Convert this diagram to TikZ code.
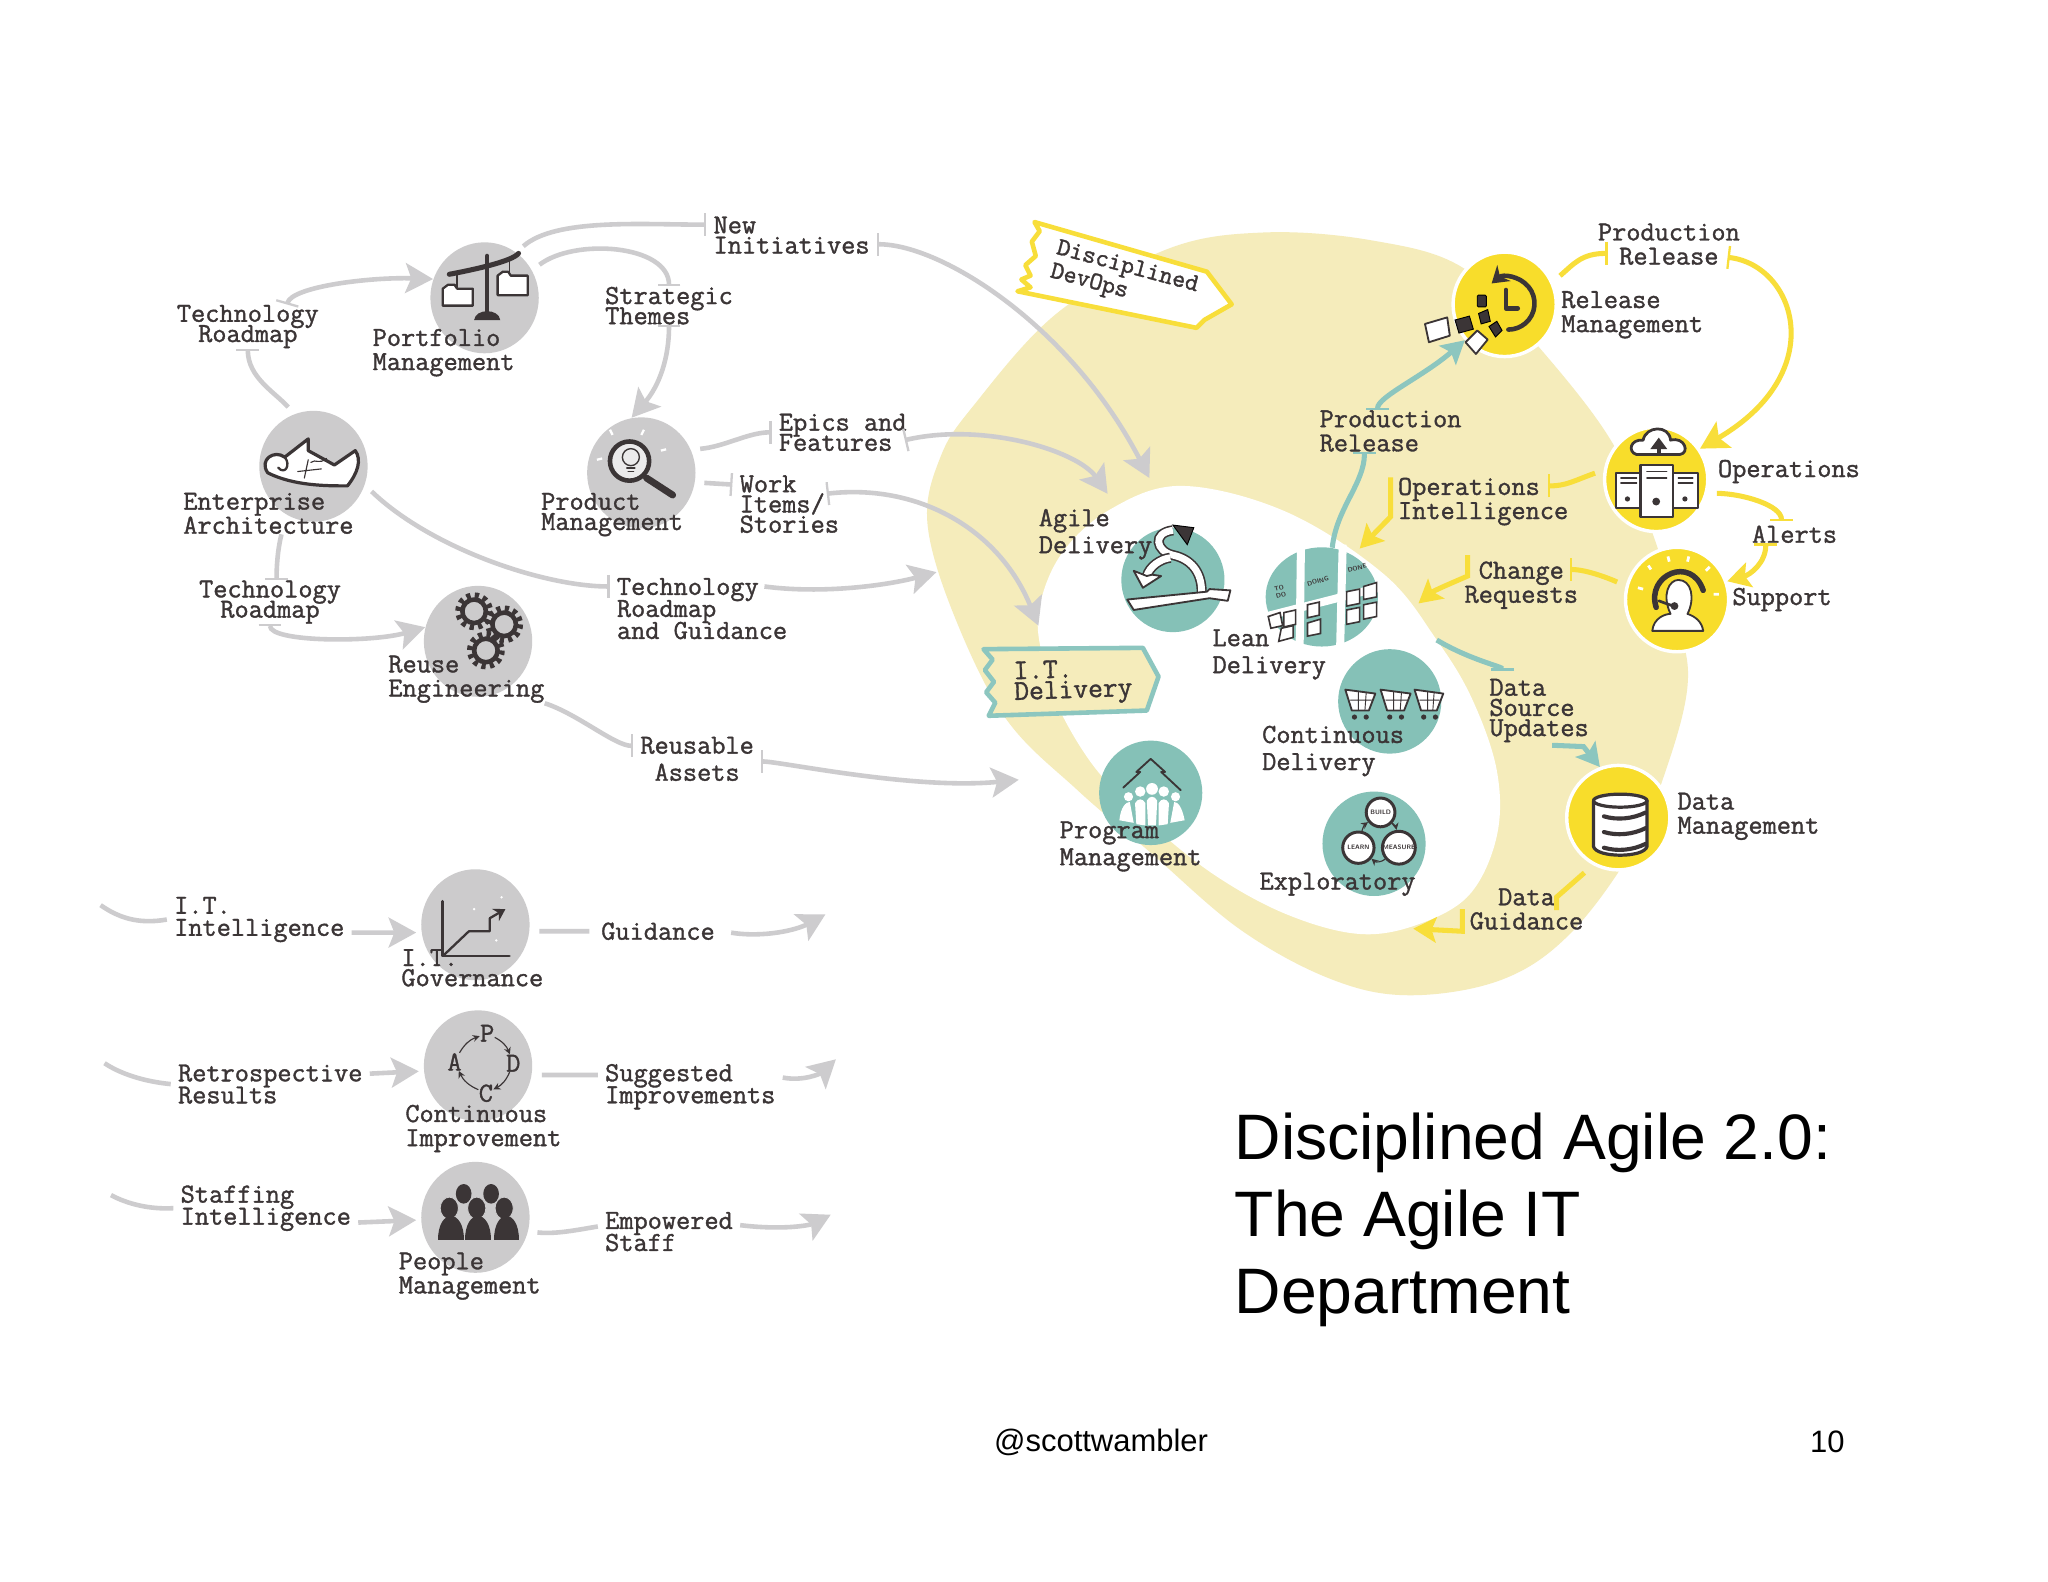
\documentclass[tikz,border=0pt]{standalone}
\usepackage{fontspec}
\setmainfont{Liberation Sans}
\newfontfamily\lblfont{Latin Modern Mono}[FakeBold=1.3]
\newcommand{\lblsize}[2]{\lblfont\fontsize{#1}{#2}\selectfont\lineskiplimit=-30pt }
\usetikzlibrary{shapes.geometric, arrows.meta}
\definecolor{ink}{HTML}{3B3536}
\definecolor{discgrey}{HTML}{CCCBCC}
\definecolor{flowgrey}{HTML}{CDCCCE}
\definecolor{discteal}{HTML}{85C1B7}
\definecolor{flowteal}{HTML}{8CC6BF}
\definecolor{discyellow}{HTML}{F8DD2B}
\definecolor{flowyellow}{HTML}{F8DE3A}
\definecolor{blob}{HTML}{F5ECBB}
\begin{document}
\begin{tikzpicture}[x=.02cm,y=-.02cm]
		\tikzstyle{GreyDisc} = [ellipse, minimum width=1.66cm, minimum height=1.7cm, inner sep=0, fill=discgrey]
		\tikzstyle{TealDisc} = [ellipse, minimum width=1.58cm, minimum height=1.6cm, inner sep=0, fill=discteal]
		\tikzstyle{YellowDisc} = [ellipse, minimum width=1.58cm, minimum height=1.6cm, inner sep=0, fill=discyellow, draw=white, line width=1.5pt]
		\tikzstyle{Lbl} = [anchor=west, align=left, xshift=-3pt, inner xsep=3pt, inner ysep=0pt, text=ink, font=\lblsize{12}{10.5}]
		\tikzstyle{LblC} = [Lbl, anchor=center, align=center, xshift=0pt]
		\tikzstyle{Snug} = [font=\lblsize{12}{8.8}]
		\tikzstyle{Tight} = [font=\lblsize{12}{9.6}]
		\tikzstyle{Loose} = [font=\lblsize{12}{11.8}]
		\tikzstyle{Slide} = [anchor=west, align=left, inner sep=0pt, font=\fontsize{28}{33.6}\selectfont]
		\tikzstyle{Foot} = [inner sep=0pt, font=\fontsize{13.5}{16}\selectfont]
		\tikzstyle{Tiny} = [inner sep=0pt, text=ink, font=\sffamily\bfseries\fontsize{2.8}{3.4}\selectfont]
		\tikzstyle{Letter} = [inner sep=0pt, text=ink, font=\lblsize{12}{12}]
		\tikzstyle{Grey} = [line width=2pt, draw=flowgrey]
		\tikzstyle{Teal} = [line width=2.2pt, draw=flowteal]
		\tikzstyle{Yellow} = [line width=2.2pt, draw=flowyellow]
		\tikzstyle{toBar} = [arrows=-{Bar[width=10pt,line width=1pt]}]
		\tikzstyle{barArrow} = [arrows={Bar[width=10pt,line width=1pt]}-{Stealth[length=12pt,width=13pt,inset=2.5pt]}]
		\tikzstyle{toArrow} = [arrows=-{Stealth[length=12pt,width=13pt,inset=2.5pt]}]
		\tikzstyle{smallArrow} = [arrows=-{Stealth[length=10pt,width=11pt,inset=2pt]}]
		\tikzstyle{barSmall} = [arrows={Bar[width=10pt,line width=1pt]}-{Stealth[length=10pt,width=11pt,inset=2pt]}]
		\tikzstyle{Out} = [shorten <=4pt]
		\tikzstyle{Icon} = [draw=ink, line width=1pt, fill=white, line join=round]
		\tikzstyle{Stroke} = [draw=ink, line width=1.4pt, line cap=round, line join=round]
		\tikzstyle{Solid} = [fill=ink]
		\tikzstyle{Ribbon} = [draw=ink, line width=.7pt, double=white, double distance=3pt]
		\tikzstyle{Note} = [draw=ink, line width=.7pt, fill=white]
		\tikzstyle{Thin} = [draw=ink, line width=.5pt, -{Stealth[length=3pt,width=3pt]}]

		\useasboundingbox (0,0) rectangle (1568,1211);
		\fill [white] (0,0) rectangle (1568,1211);

		\fill [blob] plot [smooth cycle, tension=.6] coordinates {(967,178) (1050,184) (1120,205) (1175,262) (1232,335) (1264,405) (1286,480) (1292,525) (1277,585) (1250,650) (1202,715) (1150,750) (1080,762) (1020,750) (950,712) (880,652) (825,605) (770,550) (730,470) (710,400) (720,350) (745,311) (809,240) (893,191)};
		\fill [white] plot [smooth cycle, tension=.6] coordinates {(905,372) (985,392) (1060,440) (1100,490) (1127,535) (1146,590) (1146,640) (1125,685) (1085,708) (1040,715) (985,700) (930,670) (880,630) (840,590) (812,545) (800,510) (795,470) (812,425) (850,390)};

		\filldraw [fill=white, draw=flowyellow, line width=2pt, line join=round] (792,170) -- (924,208) -- (943,233) -- (922,245) -- (916,251) -- (779,223) -- (789,220) -- (782,214) -- (789,211) -- (785,203) -- (793,196) -- (790,185) -- (796,177) -- cycle;
		\filldraw [fill=blob, draw=flowteal, line width=2pt, line join=round] (753,497) -- (875,496) -- (887,518) -- (878,544) -- (757,548) -- (762,538) -- (755,530) -- (761,522) -- (754,513) -- (760,505) -- cycle;

		\node (portfolio) [GreyDisc] at (371,228) {};
		\node (enterprise) [GreyDisc] at (240,357) {};
		\node (product) [GreyDisc] at (491,362) {};
		\node (reuse) [GreyDisc] at (366,491) {};
		\node (governance) [GreyDisc] at (364,708) {};
		\node (improve) [GreyDisc] at (366,816) {};
		\node (people) [GreyDisc] at (364,932) {};
		\node (agile) [TealDisc] at (898,444) {};
		\node (lean) [TealDisc, minimum width=1.72cm, minimum height=1.52cm] at (1012,457) {};
		\node (contdel) [TealDisc] at (1064,537) {};
		\node (program) [TealDisc] at (881,607) {};
		\node (explore) [TealDisc] at (1052,646) {};
		\node (release) [YellowDisc] at (1152,233) {};
		\node (operations) [YellowDisc] at (1268,367) {};
		\node (support) [YellowDisc] at (1284,459) {};
		\node (datamgmt) [YellowDisc] at (1239,626) {};

		\node (newinit) [Lbl, Snug] at (546,180) {New\\Initiatives};
		\node (themes) [Lbl, Snug] at (463,234) {Strategic\\Themes};
		\node (roadtop) [LblC, Snug] at (195,250) {Technology\\Roadmap};
		\node (portlbl) [Lbl] at (285,270) {Portfolio\\Management};
		\node (entlbl) [Lbl] at (140,393) {Enterprise\\Architecture};
		\node (epics) [Lbl, Snug] at (596,331) {Epics and\\Features};
		\node (items) [Lbl, Snug] at (566,386) {Work\\Items/\\Stories};
		\node (prodlbl) [Lbl, Snug] at (414,394) {Product\\Management};
		\node (roadlow) [LblC, Snug] at (212,461) {Technology\\Roadmap};
		\node (guidroad) [Lbl, Tight] at (472,466) {Technology\\Roadmap\\and Guidance};
		\node (reulbl) [Lbl] at (297,520) {Reuse\\Engineering};
		\node (assets) [LblC, Loose] at (539,581) {Reusable\\Assets};
		\node (itintel) [Lbl, Tight] at (133,704) {I.T.\\Intelligence};
		\node (govlbl) [Lbl, Snug] at (307,741) {I.T.\\Governance};
		\node (guidance) [Lbl] at (460,713) {Guidance};
		\node (retro) [Lbl, Tight] at (136,830) {Retrospective\\Results};
		\node (implbl) [Lbl] at (310,864) {Continuous\\Improvement};
		\node (suggest) [Lbl, Tight] at (463,832) {Suggested\\Improvements};
		\node (staffing) [Lbl, Tight] at (138,925) {Staffing\\Intelligence};
		\node (peoplbl) [Lbl] at (305,977) {People\\Management};
		\node (empower) [Lbl, Tight] at (463,943) {Empowered\\Staff};
		\node (devops) [Lbl, anchor=center, xshift=0pt, rotate=-15, font=\lblsize{11}{10.5}] at (866,214) {Disciplined\\DevOps};
		\node (itdel) [Lbl, rotate=2, font=\lblsize{12.5}{9}] at (776,524) {I.T.\\Delivery};
		\node (prodrelb) [LblC] at (1283,187) {Production\\Release};
		\node (rellbl) [Lbl] at (1195,241) {Release\\Management};
		\node (prodrela) [Lbl] at (1010,330) {Production\\Release};
		\node (opintel) [Lbl] at (1070,384) {Operations\\Intelligence};
		\node (oplbl) [Lbl] at (1315,361) {Operations};
		\node (alerts) [Lbl] at (1341,409) {Alerts};
		\node (change) [LblC] at (1170,448) {Change\\Requests};
		\node (suplbl) [Lbl] at (1326,459) {Support};
		\node (agilbl) [Lbl, Loose] at (795,409) {Agile\\Delivery};
		\node (leanlbl) [Lbl, Loose] at (928,501) {Lean\\Delivery};
		\node (contlbl) [Lbl, Loose] at (966,575) {Continuous\\Delivery};
		\node (proglbl) [Lbl, Loose] at (811,648) {Program\\Management};
		\node (explbl) [Lbl] at (964,677) {Exploratory};
		\node (source) [Lbl, Snug] at (1140,544) {Data\\Source\\Updates};
		\node (datalbl) [Lbl] at (1284,625) {Data\\Management};
		\node (dataguid) [LblC] at (1174,696) {Data\\Guidance};

		\node (title) [Slide] at (945,934) {Disciplined Agile 2.0:\\The Agile IT\\Department};
		\node (handle) [Foot] at (843,1104) {@scottwambler};
		\node (pagenum) [Foot] at (1399,1104) {10};

		\coordinate (agileend) at (880,366);
		\coordinate (epicend) at (848,378);
		\coordinate (itend) at (795,479);
		\coordinate (roadend) at (717,438);
		\coordinate (assetend) at (780,597);
		\coordinate (intelfree) at (77,693);
		\coordinate (guidfree) at (632,700);
		\coordinate (retrofree) at (80,814);
		\coordinate (suggfree) at (640,811);
		\coordinate (stafffree) at (85,915);
		\coordinate (empfree) at (636,930);
		\coordinate (changeend) at (1086,462);
		\coordinate (intelend) at (1041,420);
		\coordinate (guidend) at (1082,711);
		\coordinate (sourcestart) at (1100,490);

		\draw [Grey, toBar, Out] (portfolio.55) .. controls (425,167) and +(-50,0) .. ([yshift=.16cm]newinit.west);
		\draw [Grey, barArrow] ([yshift=-.14cm]newinit.east) .. controls +(50,0) and (820,250) .. (agileend);
		\draw [Grey, toBar, Out] (portfolio.30) .. controls (440,182) and +(0,-32) .. (themes.north);
		\draw [Grey, barArrow] (themes.south) .. controls +(0,25) and (505,295) .. (product.100);
		\draw [Grey, toBar, Out] (enterprise.110) .. controls (210,300) and +(0,22) .. (roadtop.south);
		\draw [Grey, barArrow] ([xshift=.6cm]roadtop.north) .. controls +(4,-14) and (285,212) .. (portfolio.160);
		\draw [Grey, toBar, Out] (product.25) .. controls (555,342) and +(-18,0) .. (epics.west);
		\draw [Grey, barArrow] ([xshift=-.14cm,yshift=-.12cm]epics.east) .. controls +(60,-14) and (825,345) .. (epicend);
		\draw [Grey, toBar, Out] (product.-10) -- ([yshift=.3cm]items.west);
		\draw [Grey, barArrow] ([xshift=-.3cm,yshift=.16cm]items.east) .. controls +(70,-8) and (765,405) .. (itend);
		\draw [Grey, toBar, Out] (enterprise.-20) .. controls (330,420) and +(-50,0) .. ([yshift=.34cm]guidroad.west);
		\draw [Grey, toArrow] ([xshift=-.46cm,yshift=.34cm]guidroad.east) .. controls (630,455) and (680,448) .. (roadend);
		\draw [Grey, toBar] ([xshift=.2cm]entlbl.south) .. controls +(-3,12) and +(0,-10) .. ([xshift=.1cm]roadlow.north);
		\draw [Grey, barArrow] (roadlow.south) .. controls +(0,14) and (285,492) .. (reuse.165);
		\draw [Grey, toBar] ([xshift=1.2cm]reulbl.south) .. controls +(25,8) and +(-14,0) .. ([yshift=.2cm]assets.west);
		\draw [Grey, barArrow] ([yshift=-.04cm]assets.east) .. controls +(15,0) and (700,605) .. (assetend);

		\draw [Grey] (intelfree) .. controls (90,702) and (105,708) .. (itintel.west);
		\draw [Grey, toArrow, shorten >=2pt] ([yshift=-.2cm]itintel.east) -- ([yshift=-.12cm]governance.west);
		\draw [Grey, Out, shorten >=2pt] ([yshift=-.1cm]governance.east) -- (guidance.west);
		\draw [Grey, toArrow, Out] (guidance.east) .. controls (585,718) and (610,712) .. (guidfree);
		\draw [Grey] (retrofree) .. controls (92,822) and (110,828) .. (retro.west);
		\draw [Grey, toArrow, shorten >=2pt] ([yshift=.16cm]retro.east) -- ([yshift=-.08cm]improve.west);
		\draw [Grey, Out] ([yshift=-.14cm]improve.east) -- ([yshift=.18cm]suggest.west);
		\draw [Grey, toArrow] ([yshift=.14cm]suggest.east) .. controls (615,828) and (628,822) .. (suggfree);
		\draw [Grey] (stafffree) .. controls (98,922) and (115,926) .. (staffing.west);
		\draw [Grey, toArrow, shorten >=2pt] ([yshift=-.22cm]staffing.east) -- ([yshift=-.04cm]people.west);
		\draw [Grey, Out] (people.-15) .. controls (425,945) and (440,942) .. ([yshift=.08cm]empower.west);
		\draw [Grey, toArrow] ([yshift=.1cm]empower.east) .. controls (600,942) and (620,938) .. (empfree);

		\draw [Yellow, toBar, Out] (release.25) .. controls (1205,202) and +(-20,0) .. ([xshift=.26cm,yshift=-.14cm]prodrelb.west);
		\draw [Yellow, barArrow] ([xshift=-.3cm,yshift=-.2cm]prodrelb.east) .. controls +(52,6) and (1402,285) .. (operations.35);
		\draw [Yellow, toBar, Out] (operations.170) .. controls (1205,368) and +(14,0) .. ([xshift=-.42cm,yshift=.24cm]opintel.east);
		\draw [Yellow, smallArrow] (opintel.north west) -- ([yshift=.14cm]opintel.south west) -- (intelend);
		\draw [Yellow, toBar, Out] (operations.-15) .. controls (1335,378) and +(0,-12) .. ([xshift=-.2cm,yshift=.06cm]alerts.north);
		\draw [Yellow, barSmall] ([xshift=-.44cm]alerts.south) .. controls +(0,15) and (1340,440) .. (support.20);
		\draw [Yellow, toBar, Out] (support.165) .. controls (1230,442) and +(12,0) .. ([xshift=-.24cm,yshift=.24cm]change.east);
		\draw [Yellow, smallArrow] ([xshift=.16cm,yshift=.46cm]change.west) -- ([xshift=.16cm,yshift=.14cm]change.west) .. controls (1110,447) and (1098,452) .. (changeend);
		\draw [Yellow, Out, shorten <=5pt] (datamgmt.-118) -- ([xshift=.46cm,yshift=-.14cm]dataguid.north) -- ([xshift=.46cm,yshift=-.34cm]dataguid.north);
		\draw [Yellow, smallArrow] (dataguid.west) -- ([yshift=-.34cm]dataguid.west) -- (guidend);

		\draw [Teal, toBar] (lean.78) .. controls +(3,-30) and +(0,24) .. ([xshift=-.4cm]prodrela.south);
		\draw [Teal, barSmall] ([xshift=-.2cm]prodrela.north) .. controls +(0,-10) and (1090,288) .. (release.-138);
		\draw [Teal, toBar] (sourcestart) .. controls (1125,505) and +(0,-3) .. ([xshift=-.56cm,yshift=.12cm]source.north);
		\draw [Teal, smallArrow] ([xshift=.2cm,yshift=-.04cm]source.south) -- ++(24,1) -- (datamgmt.110);

		% portfolio
		\draw [Stroke, line width=2pt] (373,196) -- (373,240);
		\fill [ink] (363,245) .. controls (364,236) and (382,236) .. (383,245) -- cycle;
		\draw [Stroke, line width=2.2pt] (344,210) .. controls (365,206) and (392,200) .. (397,194);
		\draw [Stroke, line width=.6pt] (350,209) -- (350,220);
		\draw [Stroke, line width=.6pt] (390,200) -- (390,210);
		\filldraw [Icon] (339,221) -- (343,218) -- (348,218) -- (350,221) -- (362,221) -- (362,234) -- (339,234) -- cycle;
		\filldraw [Icon] (381,211) -- (385,208) -- (389,208) -- (391,211) -- (404,211) -- (404,226) -- (381,226) -- cycle;
		% enterprise
		\filldraw [Icon, line width=1.4pt] (205,362) .. controls (198,352) and (210,344) .. (218,350) -- (236,336) -- (236,345) -- (256,356) -- (272,345) .. controls (277,352) and (274,362) .. (266,372) .. controls (250,372) and (225,372) .. (205,362) -- cycle;
		\draw [Stroke, line width=1pt] (218,350) .. controls (223,356) and (218,364) .. (213,358);
		\draw [Stroke, line width=.5pt] (228,361) -- (246,359) (236,352) -- (233,366) (238,354) .. controls (242,351) and (244,356) .. (250,351);
		% product
		\filldraw [Icon, line width=2pt, fill=discgrey!40] (482,353) circle [radius=15];
		\draw [Stroke, line width=3pt] (495,366) -- (515,379);
		\draw [Stroke, line width=.6pt] (483,350) circle [radius=6.5];
		\draw [Stroke, line width=.8pt] (480,358) -- (486,358) (481,361) -- (485,361);
		\draw [white, line width=1pt] (467,329) -- (469,333) (493,329) -- (491,333) (510,344) -- (506,345) (457,352) -- (461,351);
		% reuse
		\draw [Stroke, line width=2pt] (363,468) circle [radius=9];
		\draw [ink, line width=2.8pt, dash pattern=on 1.8pt off 1.8pt] (363,468) circle [radius=12];
		\draw [Stroke, line width=2pt] (386,478) circle [radius=9];
		\draw [ink, line width=2.8pt, dash pattern=on 1.8pt off 1.8pt] (386,478) circle [radius=12];
		\draw [Stroke, line width=2pt] (372,498) circle [radius=9];
		\draw [ink, line width=2.8pt, dash pattern=on 1.8pt off 1.8pt] (372,498) circle [radius=12];
		% governance
		\draw [Stroke, line width=1.2pt] (339,690) -- (339,732) -- (390,732);
		\draw [Stroke, line width=1pt, -{Stealth[length=5pt,width=6pt]}] (339,732) -- (359,713) -- (375,713) -- (375,703) -- (387,696);
		\fill [white] (384,687) circle [radius=1] (363,696) circle [radius=1] (380,720) circle [radius=1];
		% improvement
		\node (plan) [Letter] at (373,791) {P};
		\node (doit) [Letter] at (393,814) {D};
		\node (check) [Letter] at (372,837) {C};
		\node (act) [Letter] at (348,813) {A};
		\draw [Thin] (plan) to [bend left=20] (doit);
		\draw [Thin] (doit) to [bend left=20] (check);
		\draw [Thin] (check) to [bend left=20] (act);
		\draw [Thin] (act) to [bend left=20] (plan);
		% people
		\fill [ink] (355,914) ellipse [x radius=6, y radius=7.5] (376,914) ellipse [x radius=6, y radius=7.5];
		\filldraw [fill=ink, draw=discgrey] (344,925) ellipse [x radius=7, y radius=8.5] (365,925) ellipse [x radius=7, y radius=8.5] (386,925) ellipse [x radius=7, y radius=8.5];
		\fill [ink] (335,949) .. controls (335,925) and (355,925) .. (355,949) -- cycle;
		\fill [ink] (356,949) .. controls (356,925) and (376,925) .. (376,949) -- cycle;
		\fill [ink] (378,949) .. controls (378,925) and (397,925) .. (397,949) -- cycle;
		% agile
		\draw [Ribbon] (920,453) .. controls (920,438) and (912,428) .. (898,425) .. controls (885,422) and (882,408) .. (898,406);
		\filldraw [Solid] (898,402) -- (909,417) -- (914,404) -- cycle;
		\draw [Ribbon] (896,427) .. controls (888,428) and (880,434) .. (878,441);
		\filldraw [Icon, line width=.8pt] (868,437) -- (875,450) -- (889,441) -- (882,440) -- (878,441) -- cycle;
		\filldraw [Icon, line width=.8pt] (863,459) -- (924,453) -- (926,451) -- (942,452) -- (940,460) -- (926,458) -- (868,467) -- cycle;
		% lean
		\draw [white, line width=3.5pt] (969,472) -- (1055,450);
		\draw [white, line width=3.5pt] (996,420) -- (995,497);
		\draw [white, line width=3.5pt] (1028,417) -- (1026,497);
		\node (todo) [Tiny, rotate=15, align=center] at (980,453) {TO\\DO};
		\node (doing) [Tiny, rotate=15] at (1009,445) {DOING};
		\node (done) [Tiny, rotate=15] at (1039,435) {DONE};
		\draw [Note] (1031,453) -- ++(10,-2) -- ++(0,11) -- ++(-10,2) -- cycle;
		\draw [Note] (1044,449) -- ++(10,-3) -- ++(0,11) -- ++(-10,2) -- cycle;
		\draw [Note] (1031,467) -- ++(10,-2) -- ++(0,11) -- ++(-10,2) -- cycle;
		\draw [Note] (1044,463) -- ++(10,-2) -- ++(0,11) -- ++(-10,2) -- cycle;
		\draw [Note] (1001,463) -- ++(9,-2) -- ++(0,10) -- ++(-9,2) -- cycle;
		\draw [Note] (1001,477) -- ++(10,-3) -- ++(0,11) -- ++(-10,2) -- cycle;
		\draw [Note] (971,472) -- ++(9,-3) -- ++(2,10) -- ++(-9,2) -- cycle;
		\draw [Note] (983,469) -- ++(9,-2) -- ++(0,11) -- ++(-9,2) -- cycle;
		\draw [Note] (981,481) -- ++(9,-2) -- ++(0,9) -- ++(-11,3) -- cycle;
		% carts
		\draw [Icon, line width=.8pt] (1030,528) -- (1053,531) -- (1048,544) -- (1035,544) -- cycle;
		\draw [Stroke, line width=.4pt] (1034,536) -- (1050,536) (1040,530) -- (1040,544) (1046,530) -- (1045,544);
		\fill [ink] (1037,549) circle [radius=2] (1046,549) circle [radius=2];
		\draw [Icon, line width=.8pt] (1057,528) -- (1080,531) -- (1075,544) -- (1062,544) -- cycle;
		\draw [Stroke, line width=.4pt] (1061,536) -- (1077,536) (1067,530) -- (1067,544) (1073,530) -- (1072,544);
		\fill [ink] (1064,549) circle [radius=2] (1073,549) circle [radius=2];
		\draw [Icon, line width=.8pt] (1083,528) -- (1105,531) -- (1100,544) -- (1088,544) -- cycle;
		\draw [Stroke, line width=.4pt] (1087,536) -- (1102,536) (1093,530) -- (1093,544) (1098,530) -- (1097,544);
		\fill [ink] (1090,549) circle [radius=2] (1099,549) circle [radius=2];
		% program
		\draw [Stroke, line width=.8pt] (860,603) -- (873,591) -- (870,591) -- (881,581) -- (892,591) -- (889,591) -- (904,605);
		\fill [white] (864,610) circle [radius=3.5] (873,606) circle [radius=4] (882,604) circle [radius=4.5] (891,606) circle [radius=4] (900,610) circle [radius=3.5];
		\fill [white] (857,628) .. controls (858,618) and (862,614) .. (865,614) -- (868,630) -- cycle;
		\fill [white] (870,631) -- (869,615) .. controls (871,611) and (875,611) .. (877,615) -- (877,632) -- cycle;
		\fill [white] (879,632) -- (878,613) .. controls (880,609) and (884,609) .. (886,613) -- (885,632) -- cycle;
		\fill [white] (887,632) -- (887,615) .. controls (889,611) and (893,611) .. (895,615) -- (894,631) -- cycle;
		\fill [white] (896,630) -- (899,614) .. controls (902,614) and (905,618) .. (907,628) -- cycle;
		% exploratory
		\node (build) [circle, draw=ink, line width=1.3pt, fill=white, minimum size=.44cm, inner sep=0, Tiny] at (1057,622) {BUILD};
		\node (learn) [circle, draw=ink, line width=1.3pt, fill=white, minimum size=.48cm, inner sep=0, Tiny] at (1040,649) {LEARN};
		\node (measure) [circle, draw=ink, line width=1.3pt, fill=white, minimum size=.48cm, inner sep=0, Tiny] at (1071,649) {MEASURE};
		\draw [Thin] (build) to [bend left=20] (measure);
		\draw [Thin] (measure) to [bend left=40] (learn);
		\draw [Thin] (learn) to [bend left=20] (build);
		% release
		\draw [Stroke, line width=2pt, {Stealth[length=7pt,width=9pt]}-] (1142,217) arc [start angle=-130, end angle=90, radius=20];
		\draw [Stroke, line width=2pt] (1153,222) -- (1153,236) -- (1162,236);
		\filldraw [Solid, rounded corners=.5pt] (1131,226) rectangle (1138,235);
		\filldraw [Solid] (1114,245) -- (1125,242) -- (1128,252) -- (1117,255) -- cycle;
		\filldraw [Solid] (1132,240) -- (1139,237) -- (1141,246) -- (1134,248) -- cycle;
		\filldraw [Solid] (1140,250) -- (1146,246) -- (1150,253) -- (1145,258) -- cycle;
		\draw [Icon, draw=ink, line width=.8pt] (1091,248) -- (1108,243) -- (1110,257) -- (1094,262) -- cycle;
		\draw [Icon, fill=white, line width=.8pt] (1122,262) -- (1131,253) -- (1139,260) -- (1130,271) -- cycle;
		% operations
		\filldraw [Icon, line width=1.2pt] (1253,348) .. controls (1246,346) and (1248,336) .. (1258,337) .. controls (1260,326) and (1278,325) .. (1279,337) .. controls (1290,334) and (1294,347) .. (1286,348) -- cycle;
		\draw [ink, line width=1.5pt, -{Triangle[length=5pt,width=7pt]}] (1270,348) -- (1270,335);
		\filldraw [Icon] (1237,362) rectangle (1257,389);
		\filldraw [Icon] (1281,362) rectangle (1300,389);
		\filldraw [Icon] (1256,356) rectangle (1281,396);
		\draw [Stroke, line width=.7pt] (1241,366) -- (1253,366) (1241,370) -- (1253,370) (1261,361) -- (1276,361) (1261,366) -- (1276,366) (1285,366) -- (1296,366) (1285,370) -- (1296,370);
		\fill [ink] (1246,382) circle [radius=2] (1268,384) circle [radius=3] (1290,382) circle [radius=2];
		% support
		\filldraw [Icon, line width=.8pt, draw=ink, fill=white] (1265,483) .. controls (1266,473) and (1275,470) .. (1279,470) .. controls (1272,455) and (1278,444) .. (1285,444) .. controls (1295,444) and (1298,458) .. (1292,470) .. controls (1298,472) and (1303,476) .. (1304,483) -- cycle;
		\draw [Stroke, line width=2.4pt] (1268,465) .. controls (1260,440) and (1295,425) .. (1304,452);
		\draw [Stroke, line width=1.2pt] (1270,460) -- (1281,464);
		\fill [ink] (1282,464) circle [radius=3];
		\draw [white, line width=1.2pt] (1262,433) -- (1264,436) (1277,426) -- (1278,430) (1293,426) -- (1292,430) (1309,434) -- (1306,437) (1316,455) -- (1312,455) (1254,450) -- (1258,451);
		% data
		\filldraw [Icon, line width=1.4pt] (1220,613) -- (1220,648) .. controls (1222,657) and (1259,657) .. (1261,648) -- (1261,613) -- cycle;
		\filldraw [Icon, line width=1.4pt] (1240.5,613) ellipse [x radius=20.5, y radius=5];
		\draw [Stroke, line width=1.8pt] (1228,625) .. controls (1238,628) and (1250,627) .. (1260,622);
		\draw [Stroke, line width=1.8pt] (1228,637) .. controls (1238,640) and (1250,639) .. (1260,634);
		\draw [Stroke, line width=1.8pt] (1228,649) .. controls (1238,652) and (1250,651) .. (1260,646);
\end{tikzpicture}
\end{document}
